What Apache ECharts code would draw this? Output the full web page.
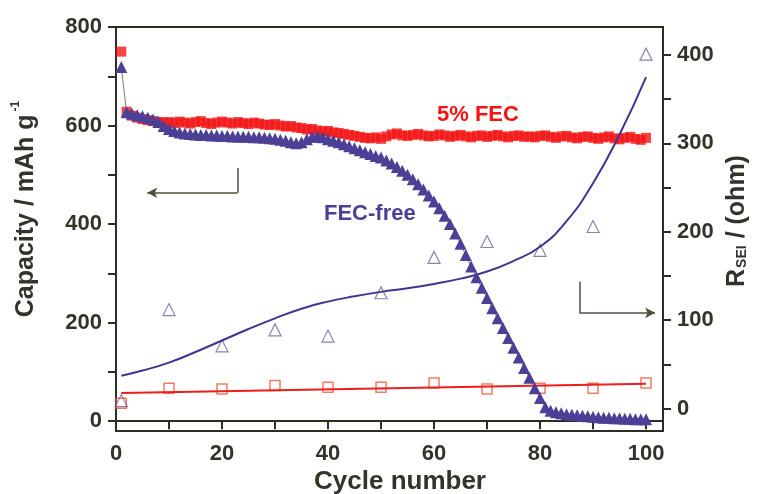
<!DOCTYPE html>
<html>
<head>
<meta charset="utf-8">
<title>Capacity and R_SEI vs cycle number</title>
<script src="https://cdn.jsdelivr.net/npm/echarts@6.0.0/dist/echarts.min.js"></script>
<style>
  html, body { margin: 0; padding: 0; background: #fff; }
  #chart { width: 763px; height: 494px; }
</style>
</head>
<body>
<div id="chart"></div>
<script>
// discharge capacity (mAh/g), cycles 1..100
var capFec = [
  750, 628, 620, 616, 613, 611, 609, 607, 606, 607,
  605, 608, 606, 604, 607, 609, 605, 603, 606, 608,
  606, 604, 607, 605, 603, 606, 604, 602, 601, 603,
  600, 598, 599, 596, 595, 592, 593, 590, 588, 589,
  586, 585, 583, 581, 579, 577, 575, 574, 576, 573,
  578, 582, 584, 580, 579, 581, 583, 580, 578, 579,
  582, 580, 577, 579, 581, 578, 576, 579, 580, 577,
  579, 581, 578, 576, 579, 580, 577, 578, 576, 579,
  580, 577, 575, 578, 579, 576, 574, 577, 578, 575,
  573, 576, 578, 574, 572, 575, 577, 573, 571, 575
];
var capFree = [
  719, 627, 624, 621, 619, 616, 612, 607, 599, 593,
  589, 586, 584, 583, 582, 581, 581, 580, 580, 579,
  579, 578, 578, 577, 577, 576, 576, 575, 574, 573,
  571, 569, 566, 564, 566, 572, 577, 578, 576, 572,
  569, 566, 562, 558, 554, 550, 546, 542, 538, 535,
  529, 523, 516, 508, 500, 491, 481, 470, 458, 446,
  432, 417, 400, 381, 360, 337, 314, 292, 271, 250,
  229, 209, 189, 169, 149, 129, 108, 88, 67, 47,
  28, 21, 18, 16, 14, 13, 12, 11, 10, 9,
  8, 7, 7, 6, 6, 5, 5, 4, 4, 4
];

// R_SEI (ohm) measured every 10 cycles
var rCycles = [1, 10, 20, 30, 40, 50, 60, 70, 80, 90, 100];
var rFec = [6, 23, 22, 26, 24, 24, 29, 22, 23, 23, 29];
var rFree = [9, 112, 71, 89, 82, 131, 171, 189, 179, 206, 401];

// fitted curves
var fitFecX = [1, 100];
var fitFecY = [17.5, 28];
var fitFreeX = [1, 5, 10, 15, 20, 25, 30, 35, 40, 45, 50, 55, 60, 65, 70, 75, 80, 85, 90, 95, 100];
var fitFreeY = [37, 43, 52, 64, 77, 90, 102, 113, 121, 127, 132, 136, 141, 147, 155, 167, 183, 212, 255, 310, 375];

var xTicks = [0, 10, 20, 30, 40, 50, 60, 70, 80, 90, 100];
var xLabels = [0, 20, 40, 60, 80, 100];
var capTicks = [0, 100, 200, 300, 400, 500, 600, 700, 800];
var capLabels = [0, 200, 400, 600, 800];
var rTicks = [0, 50, 100, 150, 200, 250, 300, 350, 400];
var rLabels = [0, 100, 200, 300, 400];

var axisColor = '#2d2d24';
var textColor = '#33332a';
var font = 'Liberation Sans, Arial, sans-serif';

function pairs(xs, ys) {
  return ys.map(function (v, i) { return [xs[i], v]; });
}
function byCycle(ys) {
  return ys.map(function (v, i) { return [i + 1, v]; });
}

var tickLabel = { color: textColor, fontSize: 22, fontWeight: 'bold', fontFamily: font };

var chart = echarts.init(document.getElementById('chart'));

chart.setOption({
  animation: false,
  backgroundColor: '#fff',
  grid: {
    left: 116, right: 100, top: 27, bottom: 63,
    show: true, borderColor: axisColor, borderWidth: 2,
    outerBoundsMode: 'none'
  },
  xAxis: {
    type: 'value', min: 0, max: 103.2,
    name: 'Cycle number', nameLocation: 'middle', nameGap: 38, nameMoveOverlap: false,
    nameTextStyle: { color: textColor, fontSize: 26, fontWeight: 'bold', fontFamily: font, padding: [0, 0, 0, 21] },
    axisLine: { lineStyle: { color: axisColor, width: 2 } },
    axisTick: { inside: false, length: 8, lineStyle: { color: axisColor, width: 2 }, customValues: xTicks },
    axisLabel: Object.assign({ margin: 12, customValues: xLabels }, tickLabel),
    splitLine: { show: false }
  },
  yAxis: [{
    type: 'value', min: -20, max: 800, position: 'left',
    name: '{t|Capacity / mAh g}{s|-1}', nameLocation: 'middle', nameRotate: 90, nameGap: 74, nameMoveOverlap: false,
    nameTextStyle: {
      color: textColor, fontFamily: font, padding: [0, 0, 0, 40],
      rich: {
        t: { fontSize: 25, fontWeight: 'bold', fontFamily: font, color: textColor },
        s: { fontSize: 12, fontWeight: 'bold', fontFamily: font, color: textColor, padding: [0, 0, 20, 3] }
      }
    },
    axisLine: { show: true, lineStyle: { color: axisColor, width: 2 } },
    axisTick: { show: true, inside: false, length: 8, lineStyle: { color: axisColor, width: 2 }, customValues: capTicks },
    axisLabel: Object.assign({ margin: 14, customValues: capLabels }, tickLabel),
    splitLine: { show: false }
  }, {
    type: 'value', min: -25.4, max: 431.7, position: 'right',
    name: '{t|R}{s|SEI}{t| / (ohm)}', nameLocation: 'middle', nameRotate: 90, nameGap: 62, nameMoveOverlap: false,
    nameTextStyle: {
      color: textColor, fontFamily: font, padding: [0, 0, 0, 16],
      rich: {
        t: { fontSize: 25, fontWeight: 'bold', fontFamily: font, color: textColor },
        s: { fontSize: 14, fontWeight: 'bold', fontFamily: font, color: textColor, padding: [9, 0, 0, 1] }
      }
    },
    axisLine: { show: true, lineStyle: { color: axisColor, width: 2 } },
    axisTick: { show: true, inside: false, length: 8, lineStyle: { color: axisColor, width: 2 }, customValues: rTicks },
    axisLabel: Object.assign({ margin: 14, customValues: rLabels }, tickLabel),
    splitLine: { show: false }
  }],
  series: [{
    name: '5% FEC', type: 'scatter', yAxisIndex: 0,
    symbol: 'rect', symbolSize: 10,
    itemStyle: { color: '#f41414' },
    data: byCycle(capFec),
    markLine: {
      silent: true, animation: false, symbol: ['none', 'arrow'], symbolSize: [8, 10],
      label: { show: false },
      lineStyle: { color: '#4a4f3e', width: 1.5, type: 'solid' },
      data: [
        [{ coord: [22.9, 514], symbol: 'none' }, { coord: [22.9, 463.5], symbol: 'none' }],
        [{ coord: [22.9, 463.5], symbol: 'none' }, { coord: [5.9, 463.5], symbol: 'arrow' }]
      ]
    }
  }, {
    name: 'FEC-free', type: 'line', yAxisIndex: 0,
    symbol: 'triangle', symbolSize: 12, showSymbol: true,
    itemStyle: { color: '#4b3f96' },
    lineStyle: { color: '#7a7a72', width: 1 },
    data: byCycle(capFree)
  }, {
    name: 'R_SEI 5% FEC', type: 'scatter', yAxisIndex: 1,
    symbol: 'rect', symbolSize: 10,
    itemStyle: { color: 'rgba(0,0,0,0)', borderColor: '#ee5a3a', borderWidth: 1.5 },
    data: pairs(rCycles, rFec)
  }, {
    name: 'R_SEI FEC-free', type: 'scatter', yAxisIndex: 1,
    symbol: 'triangle', symbolSize: 12,
    itemStyle: { color: 'rgba(0,0,0,0)', borderColor: '#6c6696', borderWidth: 1.2 },
    data: pairs(rCycles, rFree)
  }, {
    name: 'fit 5% FEC', type: 'line', yAxisIndex: 1, showSymbol: false,
    lineStyle: { color: '#ee1c1c', width: 2 },
    data: pairs(fitFecX, fitFecY),
    markLine: {
      silent: true, animation: false, symbol: ['none', 'arrow'], symbolSize: [8, 10],
      label: { show: false },
      lineStyle: { color: '#4a4f3e', width: 1.5, type: 'solid' },
      data: [
        [{ coord: [87.4, 143.4], symbol: 'none' }, { coord: [87.4, 108.3], symbol: 'none' }],
        [{ coord: [87.4, 108.3], symbol: 'none' }, { coord: [101.7, 108.3], symbol: 'arrow' }]
      ]
    }
  }, {
    name: 'fit FEC-free', type: 'line', yAxisIndex: 1, showSymbol: false,
    smooth: 0.5,
    lineStyle: { color: '#3f3592', width: 2 },
    data: pairs(fitFreeX, fitFreeY)
  }],
  graphic: [{
    type: 'text', left: 437, top: 104,
    style: { text: '5% FEC', fill: '#f41414', font: 'bold 22px ' + font }
  }, {
    type: 'text', left: 324, top: 203,
    style: { text: 'FEC-free', fill: '#4b3f96', font: 'bold 22px ' + font }
  }]
});
</script>
</body>
</html>
